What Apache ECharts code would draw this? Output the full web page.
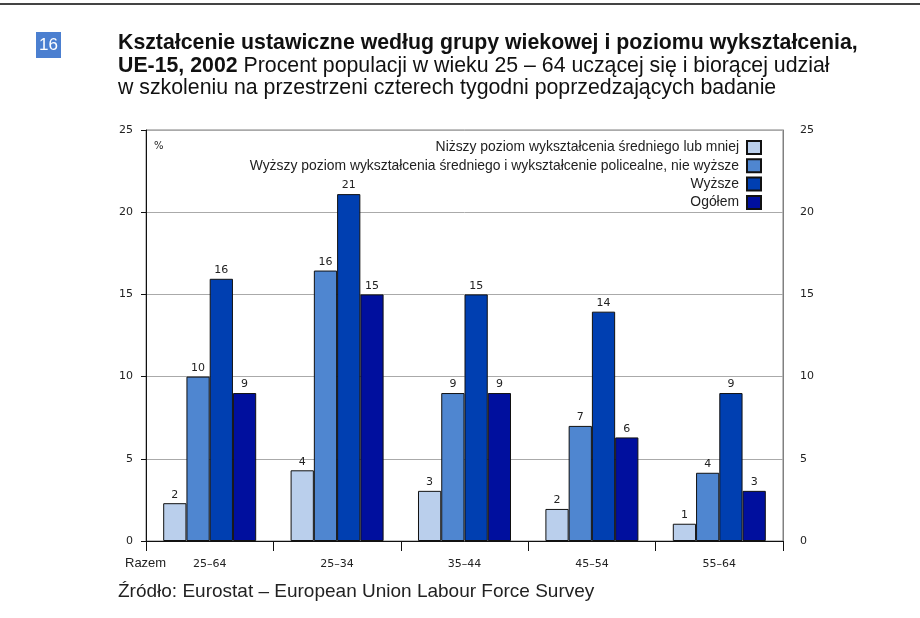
<!DOCTYPE html>
<html><head><meta charset="utf-8">
<script src="https://cdn.jsdelivr.net/npm/echarts@6/dist/echarts.min.js"></script>
<style>html,body{margin:0;padding:0;background:#fff}#c{width:920px;height:618px}</style>
</head><body><div id="c"></div>
<script>
const categories = ['25–64', '25–34', '35–44', '45–54', '55–64'];
const seriesNames = [
  'Niższy poziom wykształcenia średniego lub mniej',
  'Wyższy poziom wykształcenia średniego i wykształcenie policealne, nie wyższe',
  'Wyższe',
  'Ogółem'
];
const lowerSecondary = [2.3, 4.3, 3.05, 1.95, 1.05];
const upperSecondary = [10.0, 16.45, 9.0, 7.0, 4.15];
const tertiary = [15.95, 21.1, 15.0, 13.95, 9.0];
const total = [9.0, 15.0, 9.0, 6.3, 3.05];
const yTicks = [0, 5, 10, 15, 20, 25];
const colors = ['#bacfec', '#4f86d0', '#003fb1', '#000f9e'];

const chart = echarts.init(document.getElementById('c'));
const lblFont = { fontFamily: 'DejaVu Sans', fontSize: 11, color: '#222' };
const dataSets = [lowerSecondary, upperSecondary, tertiary, total];
const series = dataSets.map((d, i) => ({
  name: seriesNames[i],
  type: 'bar',
  data: d,
  barGap: '0%',
  barCategoryGap: '27%',
  itemStyle: { color: colors[i], borderColor: '#111', borderWidth: 1 },
  label: { show: true, position: 'top', distance: 3, formatter: p => Math.round(p.value), ...lblFont },
  emphasis: { disabled: true }
}));

chart.setOption({
  animation: false,
  backgroundColor: '#fff',
  grid: { left: 146, right: 137, top: 130, bottom: 77, show: true, borderColor: '#808080', borderWidth: 1, backgroundColor: 'transparent' },
  legend: {
    orient: 'vertical', align: 'right', right: 158, top: 140,
    itemWidth: 14, itemHeight: 13, itemGap: 3.3, padding: 0,
    icon: 'rect', selectedMode: false,
    textStyle: { fontFamily: 'Liberation Sans', fontSize: 13.9, color: '#222', padding: [0, 3, 0, 0] },
    data: seriesNames
  },
  xAxis: {
    type: 'category', data: categories,
    axisLine: { lineStyle: { color: '#111', width: 1 } },
    axisTick: { show: true, length: 10, interval: 0, lineStyle: { color: '#111' } },
    axisLabel: { margin: 18, interval: 0, ...lblFont }
  },
  yAxis: [
    {
      type: 'value', min: 0, max: 25, interval: 5, position: 'left',
      axisLine: { show: true, lineStyle: { color: '#111' } },
      axisTick: { show: true, length: 5, lineStyle: { color: '#111' } },
      splitLine: { show: true, lineStyle: { color: '#aaaaaa' } },
      axisLabel: { margin: 13, ...lblFont, formatter: v => yTicks.includes(v) ? String(v) : '' }
    },
    {
      type: 'value', min: 0, max: 25, interval: 5, position: 'right',
      axisLine: { show: true, lineStyle: { color: '#808080' } },
      axisTick: { show: false },
      splitLine: { show: false },
      axisLabel: { margin: 17, ...lblFont, formatter: v => yTicks.includes(v) ? String(v) : '' }
    }
  ],
  series: series,
  graphic: [
    { type: 'line', shape: { x1: 0, y1: 4, x2: 920, y2: 4 }, style: { stroke: '#444', lineWidth: 2 } },
    { type: 'rect', shape: { x: 36, y: 32, width: 25, height: 26 }, style: { fill: '#4b7fd0' } },
    { type: 'text', x: 48.5, y: 45, style: { text: '16', fill: '#fff', font: '17px "Liberation Sans Narrow", "Liberation Sans"', align: 'center', verticalAlign: 'middle' } },
    { type: 'text', x: 118, y: 43, style: { text: 'Kształcenie ustawiczne według grupy wiekowej i poziomu wykształcenia,', fill: '#111', font: 'bold 21.3px "Liberation Sans"', verticalAlign: 'middle' } },
    { type: 'text', x: 118, y: 66, style: { text: '{b|UE-15, 2002} Procent populacji w wieku 25 – 64 uczącej się i biorącej udział', fill: '#111', font: '21.3px "Liberation Sans"', verticalAlign: 'middle', rich: { b: { font: 'bold 21.3px "Liberation Sans"', fill: '#111' } } } },
    { type: 'text', x: 118, y: 88.5, style: { text: 'w szkoleniu na przestrzeni czterech tygodni poprzedzających badanie', fill: '#111', font: '21.3px "Liberation Sans"', verticalAlign: 'middle' } },
    { type: 'text', x: 154, y: 146, style: { text: '%', fill: '#222', font: '10px "DejaVu Sans"', verticalAlign: 'middle' } },
    { type: 'text', x: 125, y: 563, style: { text: 'Razem', fill: '#222', font: '13px "Liberation Sans"', verticalAlign: 'middle' } },
    { type: 'text', x: 118, y: 592, style: { text: 'Źródło: Eurostat – European Union Labour Force Survey', fill: '#222', font: '19px "Liberation Sans"', verticalAlign: 'middle' } }
  ]
});
</script></body></html>
